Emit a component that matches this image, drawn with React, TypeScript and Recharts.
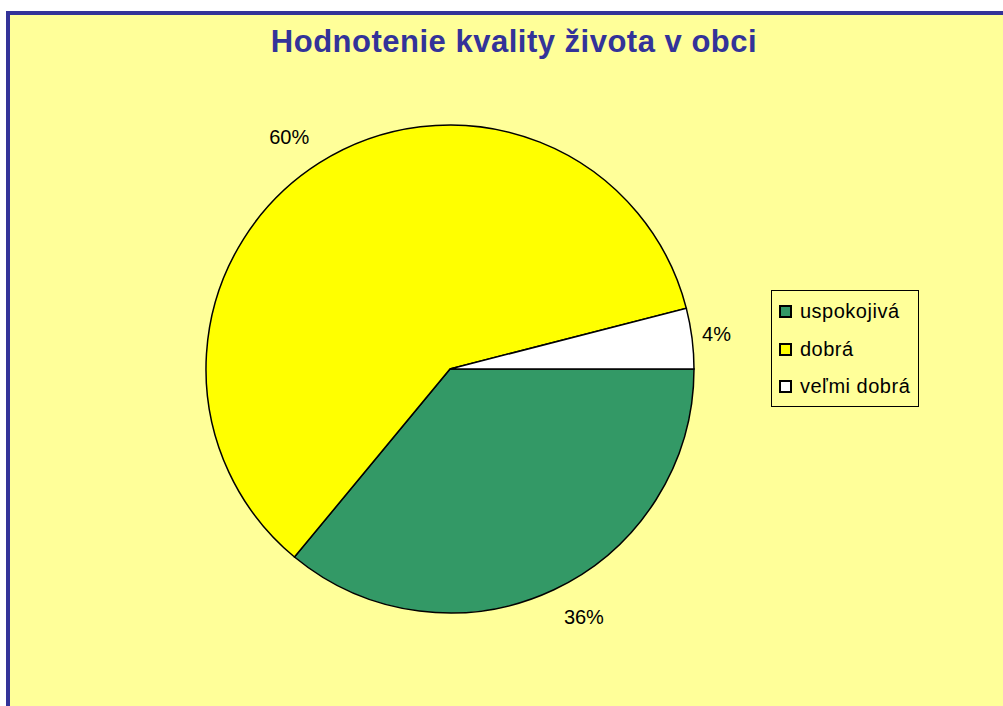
import React from 'react';
import { PieChart, Pie, Cell, Legend } from 'recharts';

const categories = ['uspokojivá', 'dobrá', 'veľmi dobrá'];
const shares = [36, 60, 4];
const sliceColors = ['#339966', '#FFFF00', '#FFFFFF'];

const chartTitle = 'Hodnotenie kvality života v obci';

const data = categories.map((name, i) => ({ name, value: shares[i] }));

const RADIAN = Math.PI / 180;
const font = '"Liberation Sans", Arial, sans-serif';

// Excel-style label: box sits just outside the slice edge
const renderLabel = (props: any) => {
  const { cx, cy, midAngle, outerRadius, value } = props;
  const cos = Math.cos(-midAngle * RADIAN);
  const sin = Math.sin(-midAngle * RADIAN);
  const x = cx + outerRadius * cos + Math.sign(cos) * 10;
  const y =
    cy +
    outerRadius * sin +
    sin * 20.6 +
    Math.sign(sin) * 9 * Math.min(1, 2 * Math.abs(sin));
  return (
    <text
      x={x}
      y={y}
      textAnchor={cos >= 0 ? 'start' : 'end'}
      dominantBaseline="central"
      fill="#000"
      fontSize={20}
      fontFamily={font}
    >
      {`${value}%`}
    </text>
  );
};

const LegendBox = () => (
  <div
    style={{
      width: 146,
      height: 113,
      border: '1px solid #000',
      background: '#FFFF99',
      boxSizing: 'content-box',
      fontFamily: font,
      fontSize: 20,
      letterSpacing: 0.5,
      color: '#000',
      paddingTop: 2,
    }}
  >
    {categories.map((c, i) => (
      <div key={c} style={{ display: 'flex', alignItems: 'center', height: 37.5, paddingLeft: 7 }}>
        <span
          style={{
            display: 'inline-block',
            width: 9,
            height: 9,
            border: '2px solid #000',
            background: sliceColors[i],
            marginRight: 8,
          }}
        />
        <span>{c}</span>
      </div>
    ))}
  </div>
);

export default function App() {
  return (
    <div
      style={{
        position: 'fixed',
        left: 0,
        top: 0,
        width: 1003,
        height: 706,
        overflow: 'hidden',
        background: '#fff',
      }}
    >
      <div
        style={{
          position: 'absolute',
          left: 6,
          top: 11,
          width: 1100,
          height: 800,
          border: '4px solid #333399',
          background: '#FFFF99',
        }}
      />
      <div
        style={{
          position: 'absolute',
          left: 0,
          width: 1028,
          top: 24,
          textAlign: 'center',
          fontFamily: font,
          fontWeight: 'bold',
          fontSize: 31,
          letterSpacing: 0.5,
          color: '#333399',
        }}
      >
        {chartTitle}
      </div>
      <div style={{ position: 'absolute', left: 0, top: 0 }}>
        <PieChart width={1003} height={706} margin={{ top: 0, right: 0, bottom: 0, left: 0 }}>
          <Pie
            data={data}
            dataKey="value"
            nameKey="name"
            cx={450}
            cy={369}
            outerRadius={244}
            startAngle={0}
            endAngle={-360}
            stroke="#000"
            strokeWidth={1.5}
            label={renderLabel}
            labelLine={false}
            isAnimationActive={false}
          >
            {data.map((d, i) => (
              <Cell key={d.name} fill={sliceColors[i]} />
            ))}
          </Pie>
          <Legend
            content={<LegendBox />}
            wrapperStyle={{ position: 'absolute', left: 771, top: 290, width: 148, height: 115 }}
          />
        </PieChart>
      </div>
    </div>
  );
}
